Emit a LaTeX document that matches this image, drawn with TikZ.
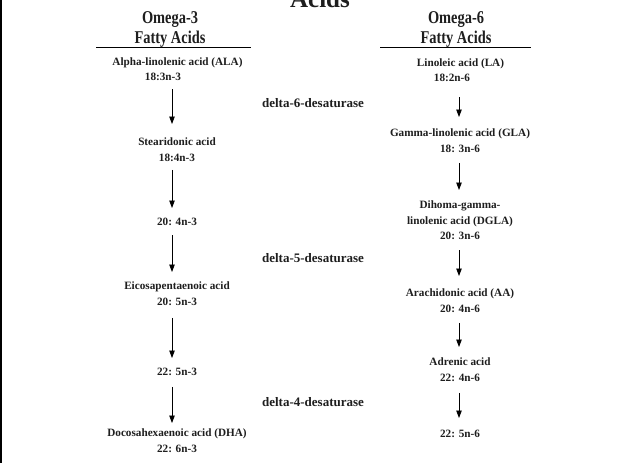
\documentclass[tikz,border=0pt]{standalone}
\usepackage{fontspec}
\setmainfont{Liberation Serif}
\newfontfamily\narrowserif[FakeStretch=0.8]{Liberation Serif}
\usetikzlibrary{arrows.meta}
\definecolor{ink}{HTML}{1E1E1E}
\begin{document}
\begin{tikzpicture}[x=1pt,y=-1pt,
  acid/.style={font=\bfseries\fontsize{11.2}{15.5}\selectfont, align=center,
    inner sep=0pt, text=ink, anchor=north},
  head/.style={font=\narrowserif\bfseries\fontsize{18}{19.5}\selectfont, align=center,
    inner sep=0pt, text=ink, anchor=north},
  enzyme/.style={font=\bfseries\fontsize{13}{15}\selectfont,
    inner sep=0pt, text=ink, anchor=base},
  arr/.style={draw=black, line width=0.8pt,
    -{Triangle[length=7.5pt,width=5.5pt]}},
  rule/.style={draw=black, line width=0.8pt}]
\useasboundingbox (0,0) rectangle (633,463);
\clip (0,0) rectangle (633,463);
\fill[white] (0,0) rectangle (633,463);
\fill[black] (0,0) rectangle (2,463);

% column axes for the arrows
\coordinate (cL) at (172,0);
\coordinate (cR) at (459,0);

% title
\node[font=\bfseries\fontsize{25}{28}\selectfont, text=ink, inner sep=0pt,
  anchor=base] (title) at (320,7) {Acids};

% column headings
\node[head] (h3) at (170,11.5) {Omega-3\\Fatty Acids};
\node[head] (h6) at (456,11.5) {Omega-6\\Fatty Acids};
\draw[rule] (96,47) -- (251,47);
\draw[rule] (380,47) -- (531,47);

% omega-3 pathway
\node[acid] (ala) at (177.5,57.5) {Alpha-linolenic acid (ALA)\\\hspace*{-29pt}18:3n-3};
\node[acid] (sda) at (177,138) {Stearidonic acid\\18:4n-3};
\node[acid] (n20a) at (177,218) {20: 4n-3};
\node[acid] (epa) at (177,282) {Eicosapentaenoic acid\\20: 5n-3};
\node[acid] (n22a) at (177,368) {22: 5n-3};
\node[acid] (dha) at (177,429) {Docosahexaenoic acid (DHA)\\22: 6n-3};

% omega-6 pathway
\node[acid] (la) at (460.5,58.5) {Linoleic acid (LA)\\\hspace*{-17pt}18:2n-6};
\node[acid] (gla) at (460,129) {Gamma-linolenic acid (GLA)\\18: 3n-6};
\node[acid] (dgla) at (460,201) {Dihoma-gamma-\\linolenic acid (DGLA)\\20: 3n-6};
\node[acid] (aa) at (460,289) {Arachidonic acid (AA)\\20: 4n-6};
\node[acid] (adr) at (460,358) {Adrenic acid\\22: 4n-6};
\node[acid] (n22b) at (460,430) {22: 5n-6};

% enzymes
\node[enzyme] (d6) at (313,107) {delta-6-desaturase};
\node[enzyme] (d5) at (313,262) {delta-5-desaturase};
\node[enzyme] (d4) at (313,406) {delta-4-desaturase};

% omega-3 steps
\draw[arr, shorten <=8pt, shorten >=14pt] (ala.south -| cL) -- (sda.north -| cL);
\draw[arr, shorten <=8pt, shorten >=10pt] (sda.south -| cL) -- (n20a.north -| cL);
\draw[arr, shorten <=9pt, shorten >=10pt] (n20a.south -| cL) -- (epa.north -| cL);
\draw[arr, shorten <=12pt, shorten >=10pt] (epa.south -| cL) -- (n22a.north -| cL);
\draw[arr, shorten <=11pt, shorten >=6pt] (n22a.south -| cL) -- (dha.north -| cL);

% omega-6 steps
\draw[arr, shorten <=15pt, shorten >=12pt] (la.south -| cR) -- (gla.north -| cR);
\draw[arr, shorten <=10pt, shorten >=11pt] (gla.south -| cR) -- (dgla.north -| cR);
\draw[arr, shorten <=10pt, shorten >=13pt] (dgla.south -| cR) -- (aa.north -| cR);
\draw[arr, shorten <=10pt, shorten >=11pt] (aa.south -| cR) -- (adr.north -| cR);
\draw[arr, shorten <=11pt, shorten >=12pt] (adr.south -| cR) -- (n22b.north -| cR);
\end{tikzpicture}
\end{document}
